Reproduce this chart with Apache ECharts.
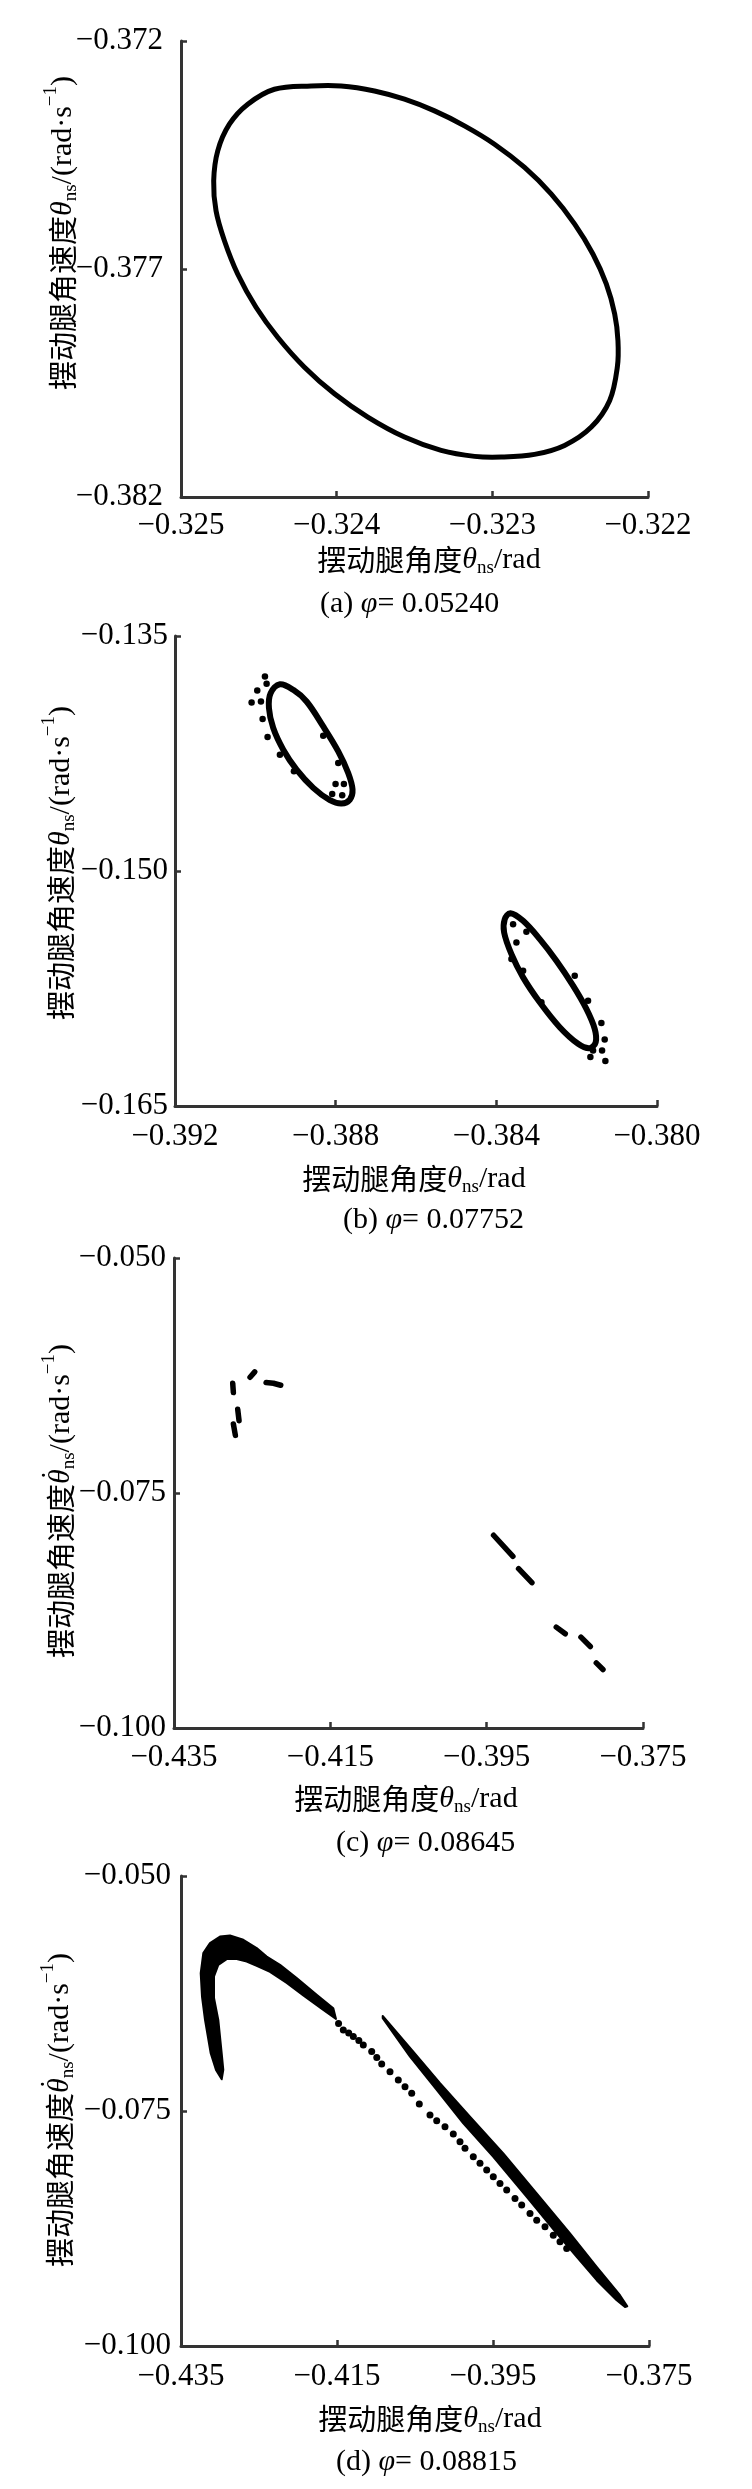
<!DOCTYPE html>
<html><head><meta charset="utf-8">
<script src="https://cdn.jsdelivr.net/npm/echarts@6/dist/echarts.min.js"></script>
<style>html,body{margin:0;padding:0;background:#fff}#c{width:752px;height:2489px}</style>
</head><body><div id="c"></div>
<script>
// ---------- tick values ----------
const xTicksA = [-0.325, -0.324, -0.323, -0.322];
const yTicksA = [-0.382, -0.377, -0.372];
const xTicksB = [-0.392, -0.388, -0.384, -0.380];
const yTicksB = [-0.165, -0.150, -0.135];
const xTicksCD = [-0.435, -0.415, -0.395, -0.375];
const yTicksCD = [-0.100, -0.075, -0.050];

// ---------- captions ----------
const panelTags = ['(a)', '(b)', '(c)', '(d)'];
const phiValues = ['0.05240', '0.07752', '0.08645', '0.08815'];

// ---------- (a) limit cycle (closed loop) ----------
const orbitA = [
[-0.324164,-0.372985],[-0.324400,-0.373058],[-0.324571,-0.373387],[-0.324689,-0.373825],
[-0.324764,-0.374409],[-0.324790,-0.375066],[-0.324775,-0.375723],[-0.324721,-0.376380],
[-0.324636,-0.377109],[-0.324518,-0.377839],[-0.324379,-0.378496],[-0.324207,-0.379153],
[-0.324014,-0.379737],[-0.323800,-0.380248],[-0.323564,-0.380686],[-0.323329,-0.380978],
[-0.323114,-0.381109],[-0.322943,-0.381124],[-0.322729,-0.381066],[-0.322536,-0.380869],
[-0.322364,-0.380467],[-0.322246,-0.379883],[-0.322197,-0.379153],[-0.322193,-0.378569],
[-0.322214,-0.377985],[-0.322268,-0.377328],[-0.322354,-0.376671],[-0.322471,-0.376015],
[-0.322621,-0.375358],[-0.322793,-0.374774],[-0.322986,-0.374263],[-0.323179,-0.373861],
[-0.323371,-0.373533],[-0.323564,-0.373277],[-0.323757,-0.373095],[-0.323971,-0.372985]
];

// ---------- (b) two loops + scattered points ----------
const orbitB1 = [
[-0.389388,-0.138076],[-0.389056,-0.138437],[-0.388724,-0.139180],[-0.388310,-0.140771],
[-0.387936,-0.142362],[-0.387688,-0.143741],[-0.387580,-0.144802],[-0.387646,-0.145438],
[-0.387854,-0.145693],[-0.388144,-0.145481],[-0.388558,-0.144696],[-0.388973,-0.143529],
[-0.389305,-0.142256],[-0.389554,-0.140877],[-0.389661,-0.139604],[-0.389620,-0.138649]
];
const orbitB2 = [
[-0.383649,-0.152694],[-0.383334,-0.153182],[-0.382919,-0.154349],[-0.382505,-0.155728],
[-0.382090,-0.157319],[-0.381758,-0.158802],[-0.381551,-0.160077],[-0.381526,-0.160924],
[-0.381675,-0.161308],[-0.381965,-0.161030],[-0.382422,-0.159971],[-0.382919,-0.158380],
[-0.383334,-0.156789],[-0.383624,-0.155304],[-0.383806,-0.153925],[-0.383790,-0.153076]
];
const dotsB = [
[-0.389761,-0.137588],[-0.389719,-0.138055],[-0.389952,-0.138479],[-0.390093,-0.139243],
[-0.389860,-0.139180],[-0.389819,-0.140304],[-0.389695,-0.141450],[-0.388310,-0.141365],
[-0.387936,-0.143105],[-0.388003,-0.144441],[-0.387795,-0.144441],[-0.388086,-0.145078],
[-0.387837,-0.145162],[-0.389388,-0.142574],[-0.389039,-0.143635],
[-0.383583,-0.153394],[-0.383251,-0.153882],[-0.383500,-0.154561],[-0.383624,-0.155622],
[-0.383334,-0.156365],[-0.382878,-0.158380],[-0.382048,-0.156683],[-0.381717,-0.158274],
[-0.381385,-0.159695],[-0.381302,-0.160751],[-0.381368,-0.161456],[-0.381285,-0.162135],
[-0.381659,-0.161880],[-0.381592,-0.161456]
];

// ---------- (c) short dashes ----------
const dashesC = [
[[-0.427489,-0.063326],[-0.427404,-0.064321]],
[[-0.426849,-0.066098],[-0.426679,-0.067307]],
[[-0.427404,-0.067662],[-0.427148,-0.068870]],
[[-0.425270,-0.062687],[-0.424673,-0.062118]],
[[-0.423222,-0.063255],[-0.422283,-0.063326],[-0.421344,-0.063540]],
[[-0.394118,-0.079496],[-0.391643,-0.081735]],
[[-0.390918,-0.083049],[-0.389211,-0.084542]],
[[-0.386096,-0.089268],[-0.384943,-0.089979]],
[[-0.382938,-0.090335],[-0.381741,-0.091330]],
[[-0.380975,-0.093071],[-0.380121,-0.093782]]
];

// ---------- (d) dense attractor: outlines of dense regions + sparse trail ----------
const hookOuterD = [
[-0.429782,-0.071623],[-0.430513,-0.070633],[-0.431192,-0.068854],[-0.431923,-0.065307],
[-0.432308,-0.062825],[-0.432474,-0.060332],[-0.432141,-0.058202],[-0.431282,-0.057137],
[-0.430000,-0.056434],[-0.428718,-0.056327],[-0.427013,-0.056785],[-0.425295,-0.057669],
[-0.424013,-0.058564],[-0.422308,-0.059448],[-0.420167,-0.060865],[-0.417603,-0.062644],
[-0.415474,-0.064061]
];
const hookInnerD = [
[-0.429577,-0.070633],[-0.429782,-0.068854],[-0.430218,-0.065307],[-0.430769,-0.062963],
[-0.430769,-0.060694],[-0.430218,-0.059448],[-0.429141,-0.058841],[-0.427859,-0.058841],
[-0.426577,-0.059097],[-0.425295,-0.059555],[-0.423590,-0.060200],[-0.421449,-0.061365],
[-0.419321,-0.062697],[-0.416756,-0.064242],[-0.415128,-0.065200]
];
const bandUpperD = [
[-0.409141,-0.064881],[-0.405218,-0.068683],[-0.401795,-0.072049],[-0.397949,-0.075607],
[-0.393679,-0.079506],[-0.389397,-0.083767],[-0.385128,-0.088027],[-0.381705,-0.091585],
[-0.378718,-0.094600],[-0.377782,-0.095771]
];
const bandLowerD = [
[-0.409141,-0.065126],[-0.405641,-0.069216],[-0.402218,-0.072763],[-0.398808,-0.076310],
[-0.394962,-0.079868],[-0.390679,-0.084129],[-0.386833,-0.088027],[-0.384269,-0.090520],
[-0.381705,-0.093002],[-0.379141,-0.095132],[-0.378077,-0.095846]
];
const trailD = [
[-0.414800,-0.065700],[-0.414192,-0.066372],[-0.413500,-0.066700],[-0.412910,-0.067086],
[-0.412200,-0.067500],[-0.411628,-0.067970],[-0.410551,-0.068683],[-0.409900,-0.069300],
[-0.409269,-0.069994],[-0.408205,-0.070814],[-0.407141,-0.071698],[-0.406282,-0.072412],
[-0.405423,-0.073115],[-0.404449,-0.074254],[-0.403077,-0.075426],[-0.402218,-0.076033],
[-0.401154,-0.076672],[-0.400090,-0.077450],[-0.399231,-0.078270],[-0.398590,-0.078973],
[-0.397526,-0.079868],[-0.396667,-0.080571],[-0.395808,-0.081285],[-0.394962,-0.081998],
[-0.394103,-0.082701],[-0.393244,-0.083415],[-0.392179,-0.084299],[-0.391321,-0.085013],
[-0.390256,-0.085897],[-0.389397,-0.086611],[-0.388333,-0.087324],[-0.387269,-0.088208],
[-0.386410,-0.088922],[-0.385551,-0.089625]
];

// ---------- styling ----------
const SERIF = "'Liberation Serif','Times New Roman',serif";
const CJK = "'Noto Sans CJK SC','Liberation Serif',sans-serif";
const AXIS_COLOR = '#333';
const fmt = v => (v < 0 ? '\u2212' : '') + Math.abs(v).toFixed(3);

const grids = [
  {left: 181, top: 41, width: 467, height: 456},
  {left: 175, top: 636, width: 482, height: 470},
  {left: 174, top: 1258, width: 469, height: 470},
  {left: 181, top: 1876, width: 468, height: 470}
];
const xLabelMargin = [13, 15, 14, 15];
const yLabelMargin = [18, 7, 8, 10];

function axis(i, ticks, margin) {
  return {
    type: 'value', gridIndex: i,
    min: ticks[0], max: ticks[ticks.length - 1],
    axisLine: {show: true, onZero: false, lineStyle: {color: AXIS_COLOR, width: 3}},
    axisTick: {show: true, inside: true, length: 6, customValues: ticks,
               lineStyle: {color: AXIS_COLOR, width: 2.5}},
    axisLabel: {show: true, customValues: ticks, formatter: fmt, margin: margin,
                fontFamily: SERIF, fontSize: 31, color: '#000',
                showMinLabel: true, showMaxLabel: true},
    splitLine: {show: false}
  };
}
const xTickSets = [xTicksA, xTicksB, xTicksCD, xTicksCD];
const yTickSets = [yTicksA, yTicksB, yTicksCD, yTicksCD];
const xAxes = xTickSets.map((t, i) => axis(i, t, xLabelMargin[i]));
const yAxes = yTickSets.map((t, i) => axis(i, t, yLabelMargin[i]));

const series = [];
function lineSeries(i, data, width) {
  return {type: 'line', xAxisIndex: i, yAxisIndex: i, data: data, showSymbol: false,
          symbol: 'none', smooth: false, silent: true,
          lineStyle: {color: '#000', width: width, cap: 'round', join: 'round'}};
}
function scatterSeries(i, data, size) {
  return {type: 'scatter', xAxisIndex: i, yAxisIndex: i, data: data, symbolSize: size,
          silent: true, itemStyle: {color: '#000', opacity: 1}};
}
// closed shape drawn through the axes' scales (api.coord)
function shapeSeries(i, pts, fill, strokeWidth, smooth) {
  return {type: 'custom', coordinateSystem: 'cartesian2d', xAxisIndex: i, yAxisIndex: i,
          data: pts, encode: {x: 0, y: 1}, silent: true,
          renderItem: function (params, api) {
            if (params.dataIndex !== 0) return null;
            return {type: 'polygon',
                    shape: {points: pts.map(p => api.coord(p)), smooth: smooth},
                    style: {fill: fill ? '#000' : 'none', stroke: '#000',
                            lineWidth: strokeWidth, lineJoin: 'round'}};
          }};
}
series.push(shapeSeries(0, orbitA, false, 5, 0.35));
series.push(shapeSeries(1, orbitB1, false, 6, 0.35));
series.push(shapeSeries(1, orbitB2, false, 6, 0.35));
series.push(scatterSeries(1, dotsB, 6.5));
dashesC.forEach(d => series.push(lineSeries(2, d, 5.5)));
series.push(shapeSeries(3, hookOuterD.concat(hookInnerD.slice().reverse()), true, 2, 0));
series.push(shapeSeries(3, bandUpperD.concat(bandLowerD.slice().reverse()), true, 2, 0));
series.push(scatterSeries(3, trailD, 7));

// ---------- axis names (graphic rich text) ----------
function richSet(mainPad, subPad) {
  return {
    c: {fontFamily: CJK, fontSize: 29, lineHeight: 30, verticalAlign: 'top', padding: [mainPad, 0, 0, 0], fill: '#000'},
    m: {fontFamily: SERIF, fontSize: 30, lineHeight: 30, verticalAlign: 'top', padding: [mainPad, 0, 0, 0], fill: '#000'},
    i: {fontFamily: SERIF, fontStyle: 'italic', fontSize: 30, lineHeight: 30, verticalAlign: 'top', padding: [mainPad, 0, 0, 0], fill: '#000'},
    dot: {fontFamily: SERIF, fontSize: 30, lineHeight: 30, verticalAlign: 'top', padding: [mainPad - 7, 1, 0, -11], fill: '#000'},
    sub: {fontFamily: SERIF, fontSize: 19, lineHeight: 19, verticalAlign: 'top', padding: [subPad, 0, 0, 0], fill: '#000'},
    sup: {fontFamily: SERIF, fontSize: 19, lineHeight: 19, verticalAlign: 'top', padding: [0, 0, 0, 0], fill: '#000'}
  };
}
function txt(x, y, rot, text, rich) {
  return {type: 'text', x: x, y: y, rotation: rot, silent: true,
          style: {legacy: false, text: text, rich: rich, align: 'center', verticalAlign: 'middle',
                  fill: '#000', fontSize: 30, fontFamily: SERIF}};
}
const xName = '{c|摆动腿角度}{i|θ}{sub|ns}{m|/rad}';
const yNamePlain = '{c|摆动腿角速度}{i|θ}{sub|ns}{m|/(rad·s}{sup|\u22121}{m|)}';
const yNameDot = '{c|摆动腿角速度}{i|θ}{dot|\u02D9}{sub|ns}{m|/(rad·s}{sup|\u22121}{m|)}';
const yNames = [yNamePlain, yNamePlain, yNameDot, yNameDot];
const xNamePos = [[429, 560], [414, 1179], [406, 1799], [430, 2419]];
const yNamePos = [[57, 233], [55, 863], [55, 1501], [54, 2110]];
const graphics = [];
for (let i = 0; i < 4; i++) {
  graphics.push(txt(xNamePos[i][0], xNamePos[i][1], 0, xName, richSet(0, 14)));
  graphics.push(txt(yNamePos[i][0], yNamePos[i][1], Math.PI / 2, yNames[i], richSet(6, 20)));
}

// ---------- captions (title components) ----------
const capLeft = [320, 343, 336, 336];
const capTop = [589, 1205, 1828, 2447];
const capRich = {
  m: {fontFamily: SERIF, fontSize: 30, color: '#000'},
  i: {fontFamily: SERIF, fontSize: 30, fontStyle: 'italic', color: '#000'}
};
const titles = panelTags.map((t, i) => ({
  left: capLeft[i], top: capTop[i], padding: 0, textAlign: 'left',
  text: '{m|' + t + ' }{i|φ}{m|= ' + phiValues[i] + '}',
  textStyle: {rich: capRich, fontFamily: SERIF, fontSize: 30, fontWeight: 'normal', color: '#000'}
}));

const chart = echarts.init(document.getElementById('c'), null, {renderer: 'canvas'});
chart.setOption({
  animation: false,
  backgroundColor: '#fff',
  title: titles,
  grid: grids,
  xAxis: xAxes,
  yAxis: yAxes,
  series: series,
  graphic: graphics
});
</script></body></html>
